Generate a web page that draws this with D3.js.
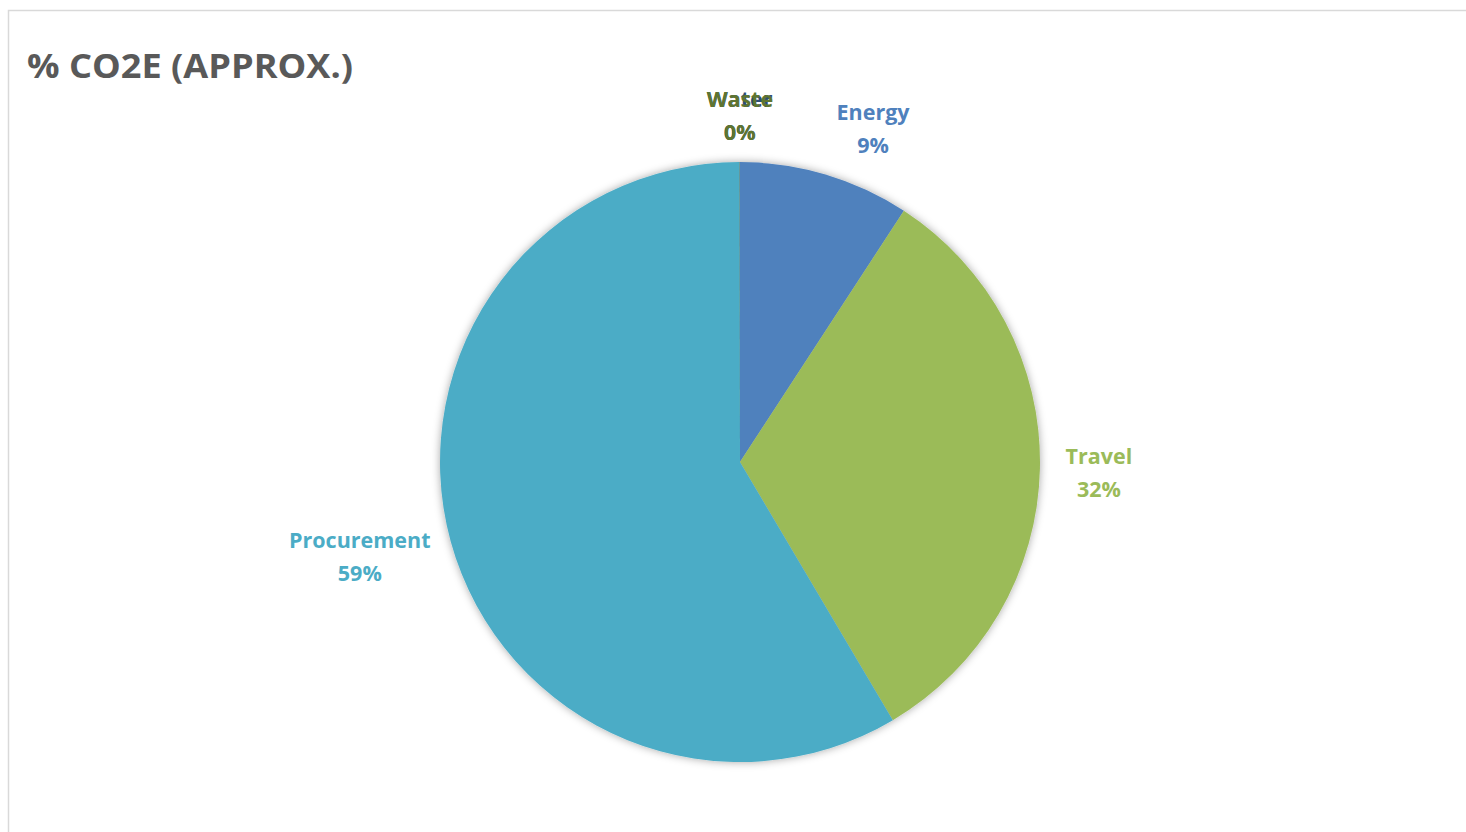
<!DOCTYPE html>
<html>
<head>
<meta charset="utf-8">
<script src="https://cdn.jsdelivr.net/npm/d3@7"></script>
<style>
  body { margin: 0; background: #fff; }
  svg { display: block; }
</style>
</head>
<body>
<svg id="chart"></svg>
<script>
// data
const categories = ["Energy", "Travel", "Procurement", "Water", "Waste"];
const values = [9.2, 32.3, 58.5, 0.01, 0.01];
const pctLabels = ["9%", "32%", "59%", "0%", "0%"];
const sliceColors = ["#4f81bd", "#9bbb59", "#4bacc6", "#2c4d75", "#5f7530"];

const svgWidth = 1466;
const svgHeight = 832;
const cx = 740, cy = 462, radius = 300;
const fontFam = "'Open Sans', Lato, sans-serif";

const svg = d3.select("#chart")
    .attr("width", svgWidth)
    .attr("height", svgHeight);

// chart frame
svg.append("rect")
    .attr("x", 8.5)
    .attr("y", 10.5)
    .attr("width", svgWidth + 20)
    .attr("height", svgHeight + 20)
    .attr("fill", "#fff")
    .attr("stroke", "#d9d9d9")
    .attr("stroke-width", 1.5);

svg.append("text")
    .attr("x", 27)
    .attr("y", 78)
    .attr("font-family", fontFam)
    .attr("font-weight", "bold")
    .attr("font-size", "34px")
    .attr("fill", "#595959")
    .attr("textLength", 326)
    .attr("lengthAdjust", "spacingAndGlyphs")
    .text("% CO2E (APPROX.)");

// soft shadow round the pie
const defs = svg.append("defs");
const filter = defs.append("filter")
    .attr("id", "shadow")
    .attr("x", "-10%").attr("y", "-10%")
    .attr("width", "120%").attr("height", "120%");
filter.append("feDropShadow")
    .attr("dx", 0).attr("dy", 0)
    .attr("stdDeviation", 4)
    .attr("flood-color", "#000")
    .attr("flood-opacity", 0.35);

const pie = d3.pie().sort(null).value(d => d);
const arcs = pie(values);
const arc = d3.arc().innerRadius(0).outerRadius(radius);

const g = svg.append("g")
    .attr("transform", "translate(" + cx + "," + cy + ")");

g.append("g")
    .attr("filter", "url(#shadow)")
    .selectAll("path")
    .data(arcs)
    .enter()
    .append("path")
    .attr("d", arc)
    .attr("fill", (d, i) => sliceColors[i]);

// data labels, outside end
const labelR = radius + 16;
const boxH = 66;
const labels = g.selectAll(".lbl")
    .data(arcs)
    .enter()
    .append("text")
    .attr("class", "lbl")
    .attr("font-family", fontFam)
    .attr("font-weight", "bold")
    .attr("font-size", "21.5px")
    .attr("text-anchor", "middle")
    .attr("fill", (d, i) => sliceColors[i])
    .attr("transform", function (d, i) {
        let a = (d.startAngle + d.endAngle) / 2;
        let s = Math.sin(a), c = Math.cos(a);
        let w = categories[i].length * 13 + 8;
        let x = labelR * s, y = -labelR * c;
        if (Math.abs(s) > 0.25) x += Math.sign(s) * w / 2;
        if (Math.abs(c) > 0.5) y += -Math.sign(c) * boxH / 2;
        else y += -c * boxH / 2;
        return "translate(" + x + "," + y + ")";
    });

labels.append("tspan")
    .attr("x", 0)
    .attr("y", -6)
    .text((d, i) => categories[i]);
labels.append("tspan")
    .attr("x", 0)
    .attr("y", 27)
    .text((d, i) => pctLabels[i]);
</script>
</body>
</html>
